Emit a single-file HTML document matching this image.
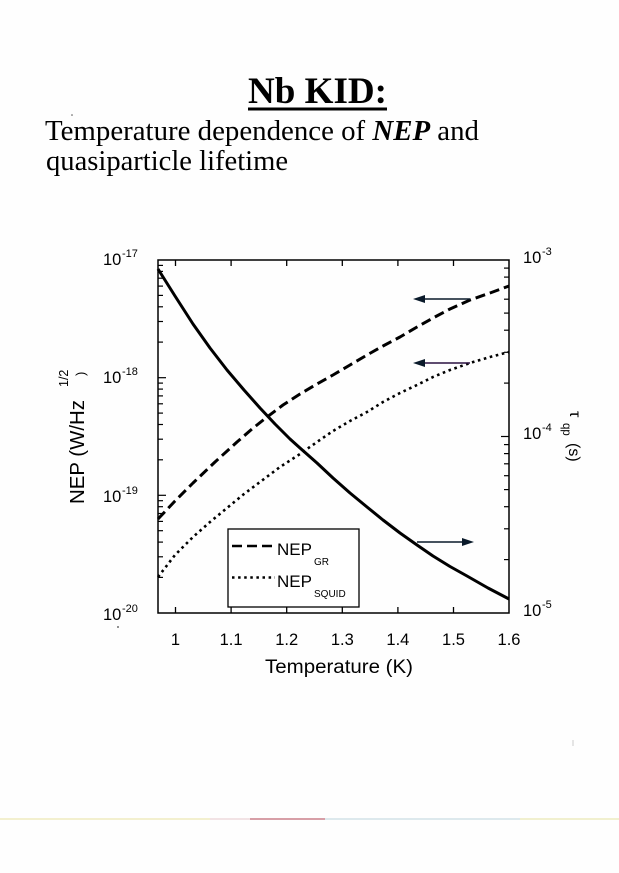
<!DOCTYPE html>
<html>
<head>
<meta charset="utf-8">
<style>
  html, body { margin:0; padding:0; background:#ffffff; }
  svg { display:block; }
</style>
</head>
<body>
<svg width="619" height="873" viewBox="0 0 619 873" xmlns="http://www.w3.org/2000/svg">
  <rect x="0" y="0" width="619" height="873" fill="#fefefe"/>

  <!-- Title -->
  <text x="248" y="103" font-family="Liberation Serif, serif" font-weight="bold" font-size="37" fill="#000" textLength="139" lengthAdjust="spacingAndGlyphs">Nb KID:</text>
  <rect x="248" y="107.5" width="139" height="3" fill="#000"/>

  <!-- Subtitle -->
  <text x="45" y="140" font-family="Liberation Serif, serif" font-size="28" fill="#000" textLength="434" lengthAdjust="spacingAndGlyphs">Temperature dependence of <tspan font-weight="bold" font-style="italic">NEP</tspan> and</text>
  <text x="46" y="170" font-family="Liberation Serif, serif" font-size="28" fill="#000" textLength="242" lengthAdjust="spacingAndGlyphs">quasiparticle lifetime</text>
  <circle cx="72" cy="115" r="0.8" fill="#555"/>

  <!-- Plot frame -->
  <rect x="158" y="260" width="351" height="353" fill="none" stroke="#000" stroke-width="1.5"/>

  <!-- X ticks (top and bottom) -->
  <g stroke="#000" stroke-width="1.3">
    <line x1="175.5" y1="260" x2="175.5" y2="266"/>
    <line x1="231.1" y1="260" x2="231.1" y2="266"/>
    <line x1="286.7" y1="260" x2="286.7" y2="266"/>
    <line x1="342.3" y1="260" x2="342.3" y2="266"/>
    <line x1="397.9" y1="260" x2="397.9" y2="266"/>
    <line x1="453.5" y1="260" x2="453.5" y2="266"/>
    <line x1="175.5" y1="613" x2="175.5" y2="607"/>
    <line x1="231.1" y1="613" x2="231.1" y2="607"/>
    <line x1="286.7" y1="613" x2="286.7" y2="607"/>
    <line x1="342.3" y1="613" x2="342.3" y2="607"/>
    <line x1="397.9" y1="613" x2="397.9" y2="607"/>
    <line x1="453.5" y1="613" x2="453.5" y2="607"/>
  </g>

  <!-- Left Y ticks (decade = 117.67px) -->
  <g stroke="#000" stroke-width="1.2">
    <!-- majors -->
    <line x1="158" y1="377.7" x2="166" y2="377.7"/>
    <line x1="158" y1="495.3" x2="166" y2="495.3"/>
    <!-- decade -17..-18 minors: 9..2 -->
    <line x1="158" y1="265.4" x2="163" y2="265.4"/>
    <line x1="158" y1="271.4" x2="163" y2="271.4"/>
    <line x1="158" y1="278.2" x2="163" y2="278.2"/>
    <line x1="158" y1="286.1" x2="163" y2="286.1"/>
    <line x1="158" y1="295.4" x2="163" y2="295.4"/>
    <line x1="158" y1="306.8" x2="163" y2="306.8"/>
    <line x1="158" y1="321.5" x2="163" y2="321.5"/>
    <line x1="158" y1="342.1" x2="163" y2="342.1"/>
    <!-- -18..-19 -->
    <line x1="158" y1="383.1" x2="163" y2="383.1"/>
    <line x1="158" y1="389.1" x2="163" y2="389.1"/>
    <line x1="158" y1="395.9" x2="163" y2="395.9"/>
    <line x1="158" y1="403.8" x2="163" y2="403.8"/>
    <line x1="158" y1="413.1" x2="163" y2="413.1"/>
    <line x1="158" y1="424.5" x2="163" y2="424.5"/>
    <line x1="158" y1="439.2" x2="163" y2="439.2"/>
    <line x1="158" y1="459.8" x2="163" y2="459.8"/>
    <!-- -19..-20 -->
    <line x1="158" y1="500.7" x2="163" y2="500.7"/>
    <line x1="158" y1="506.7" x2="163" y2="506.7"/>
    <line x1="158" y1="513.5" x2="163" y2="513.5"/>
    <line x1="158" y1="521.4" x2="163" y2="521.4"/>
    <line x1="158" y1="530.7" x2="163" y2="530.7"/>
    <line x1="158" y1="542.1" x2="163" y2="542.1"/>
    <line x1="158" y1="556.8" x2="163" y2="556.8"/>
    <line x1="158" y1="577.4" x2="163" y2="577.4"/>
  </g>

  <!-- Right Y ticks (decade = 176.5px) -->
  <g stroke="#000" stroke-width="1.2">
    <line x1="509" y1="436.5" x2="501" y2="436.5"/>
    <!-- -3..-4 -->
    <line x1="509" y1="268.1" x2="504" y2="268.1"/>
    <line x1="509" y1="277.1" x2="504" y2="277.1"/>
    <line x1="509" y1="287.3" x2="504" y2="287.3"/>
    <line x1="509" y1="299.2" x2="504" y2="299.2"/>
    <line x1="509" y1="313.1" x2="504" y2="313.1"/>
    <line x1="509" y1="330.2" x2="504" y2="330.2"/>
    <line x1="509" y1="352.3" x2="504" y2="352.3"/>
    <line x1="509" y1="383.1" x2="504" y2="383.1"/>
    <!-- -4..-5 -->
    <line x1="509" y1="444.6" x2="504" y2="444.6"/>
    <line x1="509" y1="453.6" x2="504" y2="453.6"/>
    <line x1="509" y1="463.8" x2="504" y2="463.8"/>
    <line x1="509" y1="475.7" x2="504" y2="475.7"/>
    <line x1="509" y1="489.6" x2="504" y2="489.6"/>
    <line x1="509" y1="506.7" x2="504" y2="506.7"/>
    <line x1="509" y1="528.8" x2="504" y2="528.8"/>
    <line x1="509" y1="559.6" x2="504" y2="559.6"/>
  </g>

  <!-- Left tick labels -->
  <g font-family="Liberation Sans, Arial, sans-serif" fill="#000">
    <text x="103" y="265" font-size="16.5">10</text><text x="122" y="257" font-size="11">-17</text>
    <text x="103" y="383" font-size="16.5">10</text><text x="122" y="375" font-size="11">-18</text>
    <text x="103" y="502" font-size="16.5">10</text><text x="122" y="494" font-size="11">-19</text>
    <text x="103" y="620" font-size="16.5">10</text><text x="122" y="612" font-size="11">-20</text>
  </g>
  <circle cx="118" cy="627" r="0.9" fill="#444"/>

  <!-- Right tick labels -->
  <g font-family="Liberation Sans, Arial, sans-serif" fill="#000">
    <text x="523" y="263" font-size="16.5">10</text><text x="542" y="255" font-size="11">-3</text>
    <text x="523" y="439" font-size="16.5">10</text><text x="542" y="431" font-size="11">-4</text>
    <text x="523" y="616" font-size="16.5">10</text><text x="542" y="608" font-size="11">-5</text>
  </g>

  <!-- X tick labels -->
  <g font-family="Liberation Sans, Arial, sans-serif" font-size="16.5" fill="#000" text-anchor="middle">
    <text x="175.5" y="645">1</text>
    <text x="231.1" y="645">1.1</text>
    <text x="286.7" y="645">1.2</text>
    <text x="342.3" y="645">1.3</text>
    <text x="397.9" y="645">1.4</text>
    <text x="453.5" y="645">1.5</text>
    <text x="509" y="645">1.6</text>
  </g>

  <!-- X axis label -->
  <text x="265" y="673" font-family="Liberation Sans, Arial, sans-serif" font-size="19" fill="#000" textLength="148" lengthAdjust="spacingAndGlyphs">Temperature (K)</text>

  <!-- Left axis label (rotated) -->
  <g font-family="Liberation Sans, Arial, sans-serif" fill="#000">
    <text transform="translate(84,504) rotate(-90)" font-size="20.5" textLength="104" lengthAdjust="spacingAndGlyphs">NEP (W/Hz</text>
    <text transform="translate(68,387) rotate(-90)" font-size="12.5">1/2</text>
    <text transform="translate(85,376) rotate(-90)" font-size="13">)</text>
  </g>

  <!-- Right axis label (rotated clockwise) -->
  <g font-family="Liberation Sans, DejaVu Sans, sans-serif" fill="#000">
    <text transform="translate(570,411) rotate(90)" font-size="16">τ</text>
    <text transform="translate(563,423) rotate(90)" font-size="11.5">qp</text>
    <text transform="translate(569,443) rotate(90)" font-size="16">(s)</text>
  </g>

  <!-- Curves -->
  <g fill="none" stroke="#000" stroke-linejoin="round">
    <!-- tau_qp solid -->
    <polyline stroke-width="3" points="158,269 175,296 193,324 210,348 227,370 244,390 260,408 275,424 290,439 300,448 317,463 333,478 350,493 367,507 383,520 400,533 417,545 433,556 450,566.5 467,576 488,588 509,599"/>
    <!-- NEP_GR dashed -->
    <polyline stroke-width="3" stroke-dasharray="10 5" points="158,519 175,501 193,483 215,462 237,442 252,429 267,417 283,405 300,394 317,384 333,375 350,365 367,355 383,346 400,337 417,327 433,318 450,309 470,300 490,293 509,286"/>
    <!-- NEP_SQUID dotted -->
    <polyline stroke-width="2.6" stroke-dasharray="2.6 3.6" points="158,577 175,555 193,537 210,522 227,508 244,494 260,482 280,467 300,454 317,442 333,431 350,421 367,412 383,402 400,393 417,385 433,377 450,370 470,363 490,357 509,352"/>
  </g>

  <!-- Arrows -->
  <g stroke="#0a1a2a" stroke-width="1.5" fill="#0a1a2a">
    <line x1="470" y1="299" x2="422" y2="299"/>
    <polygon points="413,299 425,295 425,303" stroke="none"/>
    <line x1="470" y1="363" x2="422" y2="363" stroke="#2a1040"/>
    <polygon points="413,363 425,359 425,367" stroke="none"/>
    <line x1="417" y1="542" x2="465" y2="542"/>
    <polygon points="474,542 462,538 462,546" stroke="none"/>
  </g>

  <!-- Legend -->
  <rect x="228" y="529" width="131" height="78" fill="#fff" stroke="#000" stroke-width="1.3"/>
  <line x1="232" y1="546" x2="275" y2="546" stroke="#000" stroke-width="2.6" stroke-dasharray="10 5"/>
  <line x1="232" y1="577.5" x2="275" y2="577.5" stroke="#000" stroke-width="2.4" stroke-dasharray="2.5 3.6"/>
  <g font-family="Liberation Sans, Arial, sans-serif" fill="#000">
    <text x="277" y="555" font-size="17">NEP</text>
    <text x="314" y="565" font-size="10">GR</text>
    <text x="277" y="587" font-size="17">NEP</text>
    <text x="314" y="597" font-size="10">SQUID</text>
  </g>

  <!-- faint scan line near bottom -->
  <line x1="0" y1="819" x2="210" y2="819" stroke="#e8e2a0" stroke-width="1"/>
  <line x1="210" y1="819" x2="250" y2="819" stroke="#e6c8cc" stroke-width="1"/>
  <line x1="250" y1="819" x2="325" y2="819" stroke="#b04050" stroke-width="1"/>
  <line x1="325" y1="819" x2="520" y2="819" stroke="#bcd4dc" stroke-width="1"/>
  <line x1="520" y1="819" x2="619" y2="819" stroke="#e4e2a0" stroke-width="1"/>
  <line x1="573" y1="740" x2="573" y2="746" stroke="#ccc" stroke-width="1"/>
</svg>
</body>
</html>
